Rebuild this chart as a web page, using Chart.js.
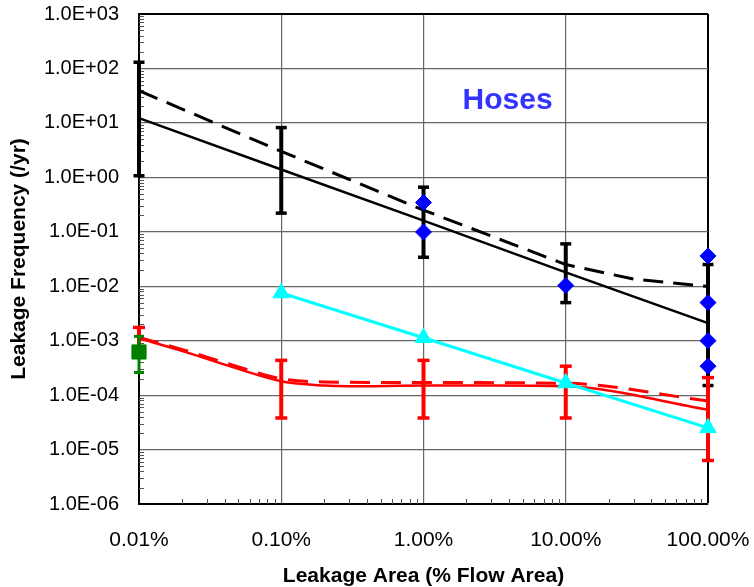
<!DOCTYPE html>
<html><head><meta charset="utf-8">
<script src="https://cdn.jsdelivr.net/npm/chart.js@4/dist/chart.umd.min.js"></script>
<style>html,body{margin:0;padding:0;background:#fff;}</style>
</head><body>
<canvas id="c" width="754" height="587"></canvas>
<script>
// ---- tick labels ----
const xDecades = [0.01, 0.1, 1, 10, 100];
const xTickLabels = ['0.01%', '0.10%', '1.00%', '10.00%', '100.00%'];
const yDecades = [1e-6, 1e-5, 1e-4, 1e-3, 1e-2, 1e-1, 1, 10, 100, 1000];
const yTickLabels = ['1.0E-06', '1.0E-05', '1.0E-04', '1.0E-03', '1.0E-02', '1.0E-01', '1.0E+00', '1.0E+01', '1.0E+02', '1.0E+03'];

// ---- series (x = leakage area in %, y = frequency /yr) ----
const fitSolidX = [0.01, 0.1, 1, 10, 100];
const fitSolidY = [12.2, 1.39, 0.16, 0.018, 0.0021];
const fitDashX = [0.01, 0.1, 1, 10, 30, 100];
const fitDashY = [39, 3.0, 0.25, 0.025, 0.0135, 0.0099];

const redSolidX = [0.01, 0.02, 0.045, 0.1, 0.2, 0.3, 1, 3, 10, 100];
const redSolidY = [1.1e-3, 6.5e-4, 3.3e-4, 1.8e-4, 1.5e-4, 1.45e-4, 1.5e-4, 1.5e-4, 1.45e-4, 5.4e-5];
const redDashX = [0.01, 0.02, 0.045, 0.1, 0.2, 1, 10, 100];
const redDashY = [1.15e-3, 6.9e-4, 3.6e-4, 2.0e-4, 1.75e-4, 1.7e-4, 1.65e-4, 7.8e-5];

const cyanX = [0.1, 1, 10, 100];
const cyanY = [7.5e-3, 1.13e-3, 1.67e-4, 2.5e-5];

const hoseX = [1, 1, 10, 100, 100, 100, 100];
const hoseY = [0.345, 0.099, 0.0103, 0.036, 0.005, 0.001, 3.4e-4];

const greenX = [0.01];
const greenY = [6.2e-4];
const greenLow = [2.6e-4];
const greenHigh = [1.2e-3];

const blackBarX = [0.01, 0.1, 1, 10, 100];
const blackLow = [1.07, 0.22, 0.034, 0.005, 1.5e-4];
const blackHigh = [130, 8.2, 0.66, 0.06, 0.025];

const redBarX = [0.01, 0.1, 1, 10, 100];
const redLow = [7e-4, 3.8e-5, 3.8e-5, 3.8e-5, 6.3e-6];
const redHigh = [1.75e-3, 4.35e-4, 4.35e-4, 3.4e-4, 2.1e-4];

const annotationText = 'Hoses';
const annotationAt = {x: 3.9, y: 26};

// ---- helpers ----
const pts = (xs, ys) => xs.map((x, i) => ({x, y: ys[i]}));
const bars = (xs, lo, hi) => xs.flatMap((x, i) => [{x, y: lo[i]}, {x, y: hi[i]}, {x, y: null}]);

const FONT = '"Liberation Sans", Arial, sans-serif';

const minorTicks = {
  id: 'minorTicks',
  beforeDatasetsDraw(chart) {
    const {ctx, chartArea: a, scales: {x, y}} = chart;
    ctx.save();
    ctx.strokeStyle = '#555';
    ctx.lineWidth = 1;
    ctx.beginPath();
    for (let e = -6; e < 3; e++) for (let m = 2; m <= 9; m++) {
      const py = Math.round(y.getPixelForValue(m * Math.pow(10, e))) + 0.5;
      ctx.moveTo(a.left, py); ctx.lineTo(a.left + 5, py);
    }
    for (let e = -2; e < 2; e++) for (let m = 2; m <= 9; m++) {
      const px = Math.round(x.getPixelForValue(m * Math.pow(10, e))) + 0.5;
      ctx.moveTo(px, a.bottom); ctx.lineTo(px, a.bottom - 5);
    }
    ctx.stroke();
    ctx.restore();
  }
};

const textLabel = {
  id: 'textLabel',
  afterDraw(chart) {
    const {ctx, scales: {x, y}} = chart;
    ctx.save();
    ctx.fillStyle = '#3333ff';
    ctx.font = 'bold 30px ' + FONT;
    ctx.textAlign = 'center';
    ctx.textBaseline = 'middle';
    ctx.fillText(annotationText, x.getPixelForValue(annotationAt.x), y.getPixelForValue(annotationAt.y));
    ctx.restore();
  }
};

new Chart(document.getElementById('c'), {
  type: 'line',
  data: {
    datasets: [
      {data: pts(greenX, greenY), showLine: false, pointStyle: 'rect', pointRadius: 10, pointBackgroundColor: '#008000', pointBorderColor: '#008000', pointBorderWidth: 1, order: 0},
      {data: bars(greenX, greenLow, greenHigh), borderColor: '#008000', borderWidth: 3, pointStyle: 'line', pointRadius: 5, pointBorderColor: '#008000', pointBorderWidth: 3, spanGaps: false, order: 1},
      {data: pts(hoseX, hoseY), showLine: false, pointStyle: 'rectRot', pointRadius: 8, pointBackgroundColor: '#0000ff', pointBorderColor: '#0000ff', pointBorderWidth: 1, order: 2},
      {data: pts(cyanX, cyanY), borderColor: '#00ffff', borderWidth: 3, pointStyle: 'triangle', pointRadius: 9.5, pointBackgroundColor: '#00ffff', pointBorderColor: '#00ffff', pointBorderWidth: 1, order: 3},
      {data: bars(redBarX, redLow, redHigh), borderColor: '#ff0000', borderWidth: 4, pointStyle: 'line', pointRadius: 6, pointBorderColor: '#ff0000', pointBorderWidth: 3.5, spanGaps: false, order: 4},
      {data: bars(blackBarX, blackLow, blackHigh), borderColor: '#000', borderWidth: 4, pointStyle: 'line', pointRadius: 5.5, pointBorderColor: '#000', pointBorderWidth: 3.5, spanGaps: false, order: 5},
      {data: pts(fitDashX, fitDashY), borderColor: '#000', borderWidth: 3, borderDash: [20, 10], pointRadius: 0, order: 6},
      {data: pts(fitSolidX, fitSolidY), borderColor: '#000', borderWidth: 2.5, pointRadius: 0, order: 7},
      {data: pts(redDashX, redDashY), borderColor: '#ff0000', borderWidth: 3, borderDash: [20, 11], pointRadius: 0, cubicInterpolationMode: 'monotone', order: 8},
      {data: pts(redSolidX, redSolidY), borderColor: '#ff0000', borderWidth: 2.5, pointRadius: 0, cubicInterpolationMode: 'monotone', order: 9}
    ].map(d => Object.assign({clip: false, fill: false}, d))
  },
  options: {
    responsive: false,
    animation: false,
    events: [],
    layout: {padding: {top: 14, right: 46, left: 0, bottom: 0}},
    plugins: {legend: {display: false}, tooltip: {enabled: false}},
    scales: {
      x: {
        type: 'logarithmic', min: 0.01, max: 100,
        afterBuildTicks: s => { s.ticks = xDecades.map(v => ({value: v})); },
        afterFit: s => { s.height = 83; s.paddingLeft = 0; s.paddingRight = 0; },
        ticks: {autoSkip: false, maxRotation: 0, padding: 24, color: '#000', font: {family: FONT, size: 21},
          callback: (v, i) => xTickLabels[i]},
        grid: {drawTicks: false,
          color: c => c.index === xDecades.length - 1 ? '#000' : '#666',
          lineWidth: c => c.index === xDecades.length - 1 ? 2 : 1.2},
        border: {display: true, color: '#000', width: 2},
        title: {display: true, text: 'Leakage Area (% Flow Area)', color: '#000', padding: {top: 0, bottom: -2},
          font: {family: FONT, size: 21, weight: 'bold'}}
      },
      y: {
        type: 'logarithmic', min: 1e-6, max: 1000,
        afterBuildTicks: s => { s.ticks = yDecades.map(v => ({value: v})); },
        afterFit: s => { s.width = 139; s.paddingTop = 0; s.paddingBottom = 0; },
        ticks: {autoSkip: false, padding: 20, color: '#000', font: {family: FONT, size: 20},
          callback: (v, i) => yTickLabels[i]},
        grid: {drawTicks: false,
          color: c => c.index === yDecades.length - 1 ? '#000' : '#666',
          lineWidth: c => c.index === yDecades.length - 1 ? 2 : 1.2},
        border: {display: true, color: '#000', width: 2},
        title: {display: true, text: 'Leakage Frequency (/yr)', color: '#000', padding: {top: 7, bottom: 0},
          font: {family: FONT, size: 21, weight: 'bold'}}
      }
    }
  },
  plugins: [minorTicks, textLabel]
});
</script>
</body></html>
